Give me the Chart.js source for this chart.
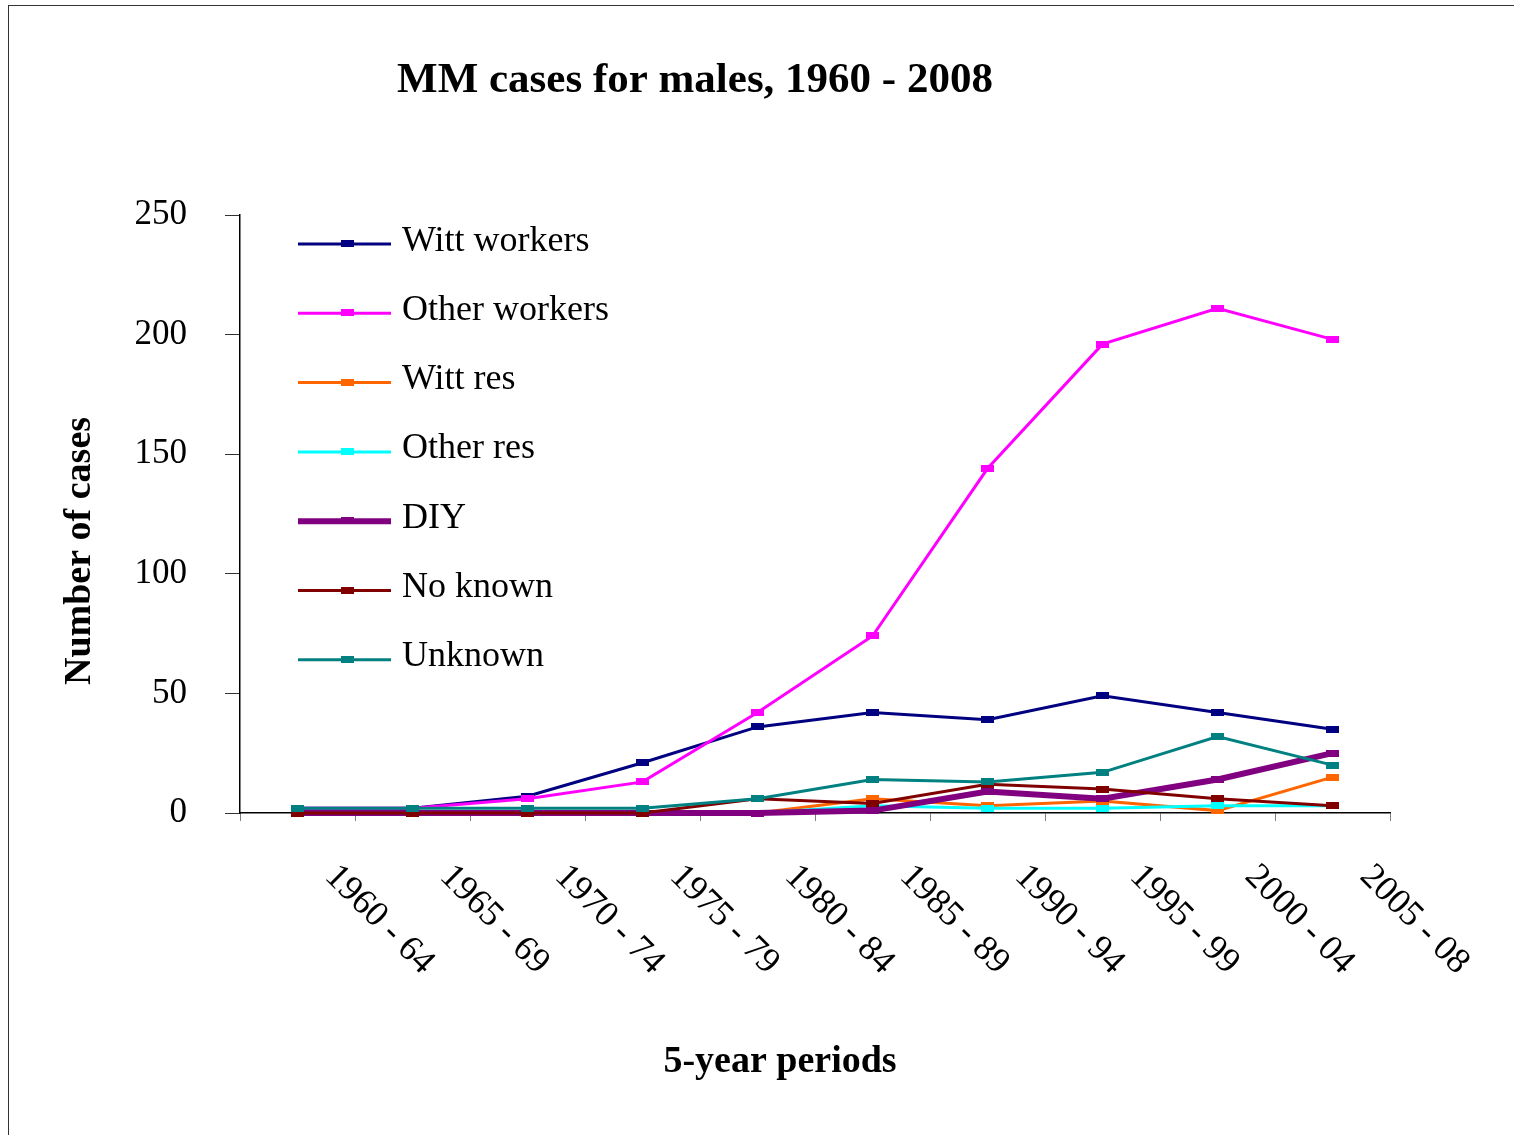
<!DOCTYPE html>
<html>
<head>
<meta charset="utf-8">
<title>MM cases for males, 1960 - 2008</title>
<script src="https://cdn.jsdelivr.net/npm/chart.js@4.4.1/dist/chart.umd.min.js"></script>
<style>
  html, body { margin: 0; padding: 0; background: #fff; }
  #wrap { position: relative; width: 1514px; height: 1135px; overflow: hidden; }
  #frame {
    position: absolute; left: 8px; top: 5px; width: 1600px; height: 1200px;
    border-left: 1px solid #333; border-top: 1px solid #333;
  }
  #chart { position: absolute; left: 0; top: 0; }
</style>
</head>
<body>
<div id="wrap">
  <div id="frame"></div>
  <canvas id="chart" width="1514" height="1135"></canvas>
</div>
<script>
// 5-year periods
const periods = [
  "1960 - 64", "1965 - 69", "1970 - 74", "1975 - 79", "1980 - 84",
  "1985 - 89", "1990 - 94", "1995 - 99", "2000 - 04", "2005 - 08",
];

// number of cases per period
const wittWorkers  = [2, 2, 7, 21, 36, 42, 39, 49, 42, 35];
const otherWorkers = [2, 2, 6, 13, 42, 74, 144, 196, 211, 198];
const wittRes      = [0, 0, 0, 0, 0, 6, 3, 5, 1, 15];
const otherRes     = [0, 0, 0, 0, 0, 3, 2, 2, 3, 3];
const diy          = [0, 0, 0, 0, 0, 1, 9, 6, 14, 25];
const noKnown      = [0, 0, 0, 0, 6, 4, 12, 10, 6, 3];
const unknown      = [2, 2, 2, 2, 6, 14, 13, 17, 32, 20];

const yTicks = [0, 50, 100, 150, 200, 250];

const xTitle = "5-year periods";
const yTitle = "Number of cases";

const FONT = "'Liberation Serif', 'Times New Roman', serif";

// flat little blocks like the Excel markers
function blockMarker(color) {
  const c = document.createElement("canvas");
  c.width = 13;
  c.height = 7;
  const g = c.getContext("2d");
  g.fillStyle = color;
  g.fillRect(0, 0, 13, 7);
  return c;
}

function series(label, data, color, width) {
  return {
    label: label,
    data: data,
    borderColor: color,
    backgroundColor: color,
    borderWidth: width,
    pointStyle: blockMarker(color),
    pointRadius: 4,
    pointHoverRadius: 4,
    tension: 0,
    clip: false,
  };
}

const datasets = [
  series("Witt workers", wittWorkers, "#000080", 3),
  series("Other workers", otherWorkers, "#FF00FF", 3),
  series("Witt res", wittRes, "#FF6600", 3),
  series("Other res", otherRes, "#00FFFF", 3),
  series("DIY", diy, "#800080", 6),
  series("No known", noKnown, "#800000", 3),
  series("Unknown", unknown, "#008080", 3),
];
// later series sit on top, as in the original
datasets.forEach((ds, i) => { ds.order = datasets.length - i; });

// legend sits inside the plot, one entry per row
const sideLegend = {
  id: "sideLegend",
  afterDraw(chart) {
    const ctx = chart.ctx;
    const left = chart.chartArea.left;
    ctx.save();
    ctx.font = "36px " + FONT;
    ctx.fillStyle = "#000";
    ctx.textAlign = "left";
    ctx.textBaseline = "alphabetic";
    chart.data.datasets.forEach((ds, i) => {
      const y = 244 + i * 69.3;
      ctx.strokeStyle = ds.borderColor;
      ctx.lineWidth = ds.borderWidth;
      ctx.beginPath();
      ctx.moveTo(left + 58, y);
      ctx.lineTo(left + 151, y);
      ctx.stroke();
      ctx.drawImage(ds.pointStyle, left + 101, y - 4);
      ctx.fillText(ds.label, left + 162, y + 6.5);
    });
    ctx.restore();
  },
};

// category labels slanted down to the right, axis titles placed like Excel does
const axisText = {
  id: "axisText",
  afterDraw(chart) {
    const ctx = chart.ctx;
    const area = chart.chartArea;
    const xs = chart.scales.x;
    ctx.save();
    ctx.fillStyle = "#000";

    ctx.font = "36px " + FONT;
    ctx.textAlign = "left";
    ctx.textBaseline = "middle";
    xs.getLabels().forEach((label, i) => {
      ctx.save();
      ctx.translate(xs.getPixelForValue(i) + 33, area.bottom + 58);
      ctx.rotate(Math.PI / 4);
      ctx.fillText(label, 0, 0);
      ctx.restore();
    });

    ctx.font = "bold 38px " + FONT;
    ctx.textAlign = "center";
    ctx.fillText(xTitle, area.left + 540, area.bottom + 249);

    ctx.save();
    ctx.translate(80, area.top + 336);
    ctx.rotate(-Math.PI / 2);
    ctx.fillText(yTitle, 0, 0);
    ctx.restore();

    ctx.restore();
  },
};

new Chart(document.getElementById("chart"), {
  type: "line",
  data: {
    labels: periods,
    datasets: datasets,
  },
  options: {
    responsive: false,
    devicePixelRatio: 1,
    animation: false,
    layout: {
      padding: { top: 0, right: 124, bottom: 0, left: 0 },
    },
    plugins: {
      legend: { display: false },
      tooltip: { enabled: false },
      title: {
        display: true,
        text: "MM cases for males, 1960 - 2008",
        color: "#000",
        font: { family: FONT, size: 43, weight: "bold" },
        padding: { top: 55, bottom: 108.4 },
      },
    },
    scales: {
      x: {
        type: "category",
        offset: true,
        grid: {
          offset: true,
          drawOnChartArea: false,
          tickLength: 8,
          color: "#808080",
        },
        border: { color: "#000", width: 1.5 },
        ticks: { display: false },
        afterFit(scale) {
          scale.height = 322;
        },
      },
      y: {
        min: 0,
        max: 250,
        afterBuildTicks(scale) {
          scale.ticks = yTicks.map((v) => ({ value: v }));
        },
        grid: {
          drawOnChartArea: false,
          tickLength: 15,
          color: "#333",
        },
        border: { color: "#000", width: 1.5 },
        ticks: {
          color: "#000",
          padding: 38,
          font: { family: FONT, size: 35 },
        },
        afterFit(scale) {
          scale.width = 240;
        },
      },
    },
  },
  plugins: [sideLegend, axisText],
});
</script>
</body>
</html>
